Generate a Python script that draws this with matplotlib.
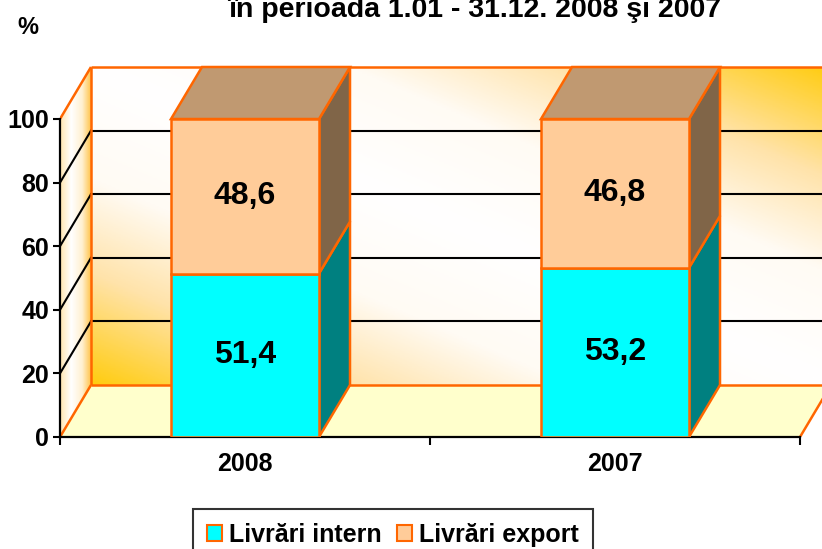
import matplotlib
matplotlib.use("Agg")
import matplotlib.pyplot as plt
import numpy as np
from matplotlib.patches import Polygon, Patch
from matplotlib.colors import LinearSegmentedColormap

plt.rcParams['font.family'] = ['Liberation Sans', 'DejaVu Sans']
plt.rcParams['font.weight'] = 'bold'

# ---- data ----
years = ["2008", "2007"]
intern = [51.4, 53.2]
export = [48.6, 46.8]
yticks = [0, 20, 40, 60, 80, 100]
title = "în perioada 1.01 - 31.12. 2008 şi 2007"
labels = ["Livrări intern", "Livrări export"]

# ---- style ----
ORANGE = "#FF6600"
C_INT = "#00FFFF"
C_INT_SIDE = "#008080"
C_EXP = "#FFCC99"
C_EXP_SIDE = "#806548"
C_EXP_TOP = "#C09971"
BAR_W = 0.4
DX, DY = 31 / 370, 52 / 3.18   # depth offset in data units
W, H = 822, 549

fig = plt.figure(figsize=(W / 100, H / 100), dpi=100)
ax = fig.add_axes([60 / W, (H - 437) / H, 762 / W, 377 / H])
ax.set_xlim(0, 762 / 370)
ax.set_ylim(0, 377 / 3.18)
ax.patch.set_visible(False)
XR = 2 + DX

# back wall gradient (diagonal, white band from top-left to bottom-right)
wall_cmap = LinearSegmentedColormap.from_list(
    "wall", [(0, "#FFFFFF"), (0.35, "#FFFBF4"), (0.65, "#FFE3AA"), (1, "#FFCC10")])
u = np.linspace(0, 1, 300)
v = np.linspace(0, 1, 150)
U, V = np.meshgrid(u, v)
ax.imshow(np.abs(U + V - 1), cmap=wall_cmap, vmin=0, vmax=1, origin="lower",
          extent=[DX, XR, DY, 100 + DY], aspect="auto", zorder=0.5)

# left side wall gradient
side_cmap = LinearSegmentedColormap.from_list(
    "side", [(0, "#FFE6B0"), (0.35, "#FFFFFF"), (0.7, "#FFF0D0"), (1, "#FFC040")])
side_img = ax.imshow(np.tile(np.linspace(0, 1, 60), (60, 1)), cmap=side_cmap, origin="lower",
                     extent=[0, DX, 0, 100 + DY], aspect="auto", zorder=0.5)
side_poly = Polygon([(0, 0), (DX, DY), (DX, 100 + DY), (0, 100)], closed=True,
                    facecolor="none", edgecolor="none", transform=ax.transData)
ax.add_patch(side_poly)
side_img.set_clip_path(side_poly)

# floor
ax.add_patch(Polygon([(0, 0), (2, 0), (XR, DY), (DX, DY)], closed=True,
                     facecolor="#FFFFCC", edgecolor="none", zorder=0.8))

# gridlines
for k in yticks[1:-1]:
    ax.plot([DX, XR], [k + DY, k + DY], color="black", lw=1.5, zorder=1)
    ax.plot([0, DX], [k, k + DY], color="black", lw=1.5, zorder=1)

# orange wall/floor edges
edge_kw = dict(color=ORANGE, lw=1.8, zorder=1.5, solid_capstyle="butt")
ax.plot([DX, XR], [DY, DY], **edge_kw)
ax.plot([0, DX], [0, DY], **edge_kw)
ax.plot([2, XR], [0, DY], **edge_kw)
ax.plot([DX, DX], [DY, 100 + DY], **edge_kw)
ax.plot([DX, XR], [100 + DY, 100 + DY], **edge_kw)
ax.plot([0, DX], [100, 100 + DY], **edge_kw)

# bars
xc = np.arange(len(years)) + 0.5
ax.bar(xc, intern, width=BAR_W, color=C_INT, edgecolor=ORANGE, lw=1.8, zorder=4)
ax.bar(xc, export, width=BAR_W, bottom=intern, color=C_EXP, edgecolor=ORANGE, lw=1.8, zorder=4)

for x, a, b in zip(xc, intern, export):
    xr = x + BAR_W / 2
    xl = x - BAR_W / 2
    top = a + b
    ax.add_patch(Polygon([(xr, 0), (xr + DX, DY), (xr + DX, a + DY), (xr, a)], closed=True,
                         facecolor=C_INT_SIDE, edgecolor=ORANGE, lw=1.8, zorder=3))
    ax.add_patch(Polygon([(xr, a), (xr + DX, a + DY), (xr + DX, top + DY), (xr, top)], closed=True,
                         facecolor=C_EXP_SIDE, edgecolor=ORANGE, lw=1.8, zorder=3))
    ax.add_patch(Polygon([(xl, top), (xl + DX, top + DY), (xr + DX, top + DY), (xr, top)], closed=True,
                         facecolor=C_EXP_TOP, edgecolor=ORANGE, lw=1.8, zorder=3))
    ax.text(x, a / 2, f"{a:.1f}".replace(".", ","), ha="center", va="center",
            fontsize=23, fontweight="bold", zorder=6)
    ax.text(x, a + b / 2, f"{b:.1f}".replace(".", ","), ha="center", va="center",
            fontsize=23, fontweight="bold", zorder=6)

# axes
for s in ["top", "right"]:
    ax.spines[s].set_visible(False)
ax.spines["left"].set_bounds(0, 100)
ax.spines["bottom"].set_bounds(0, 2)
for s in ["left", "bottom"]:
    ax.spines[s].set_linewidth(1.6)
    ax.spines[s].set_zorder(2)
ax.set_yticks(yticks)
ax.set_yticklabels([str(t) for t in yticks], fontsize=18, fontweight="bold")
ax.set_xticks([0, 1, 2])
ax.set_xticklabels([])
ax.set_xticks(xc, minor=True)
ax.set_xticklabels(years, minor=True, fontsize=18, fontweight="bold")
ax.tick_params(axis="y", direction="out", length=5, width=1.5, pad=3)
ax.tick_params(axis="x", which="major", direction="out", length=6, width=1.5)
ax.tick_params(axis="x", which="minor", length=0, pad=11)

fig.text(475 / W, 1 - 17 / H, title, ha="center", va="baseline", fontsize=20.5, fontweight="bold")
fig.text(28 / W, 1 - 34 / H, "%", ha="center", va="baseline", fontsize=17, fontweight="bold")

handles = [Patch(facecolor=C_INT, edgecolor=ORANGE, lw=1.5),
           Patch(facecolor=C_EXP, edgecolor=ORANGE, lw=1.5)]
leg = fig.legend(handles, labels, loc="upper left", bbox_to_anchor=(193 / W, 1 - 509 / H),
                 ncol=2, frameon=True, fancybox=False, borderaxespad=0,
                 handlelength=0.6, handleheight=0.6, handletextpad=0.3, columnspacing=0.6,
                 borderpad=0.55, prop={"weight": "bold", "size": 18})
leg.get_frame().set_edgecolor("black")
leg.get_frame().set_linewidth(1.5)

fig.savefig("out.png", dpi=100)
